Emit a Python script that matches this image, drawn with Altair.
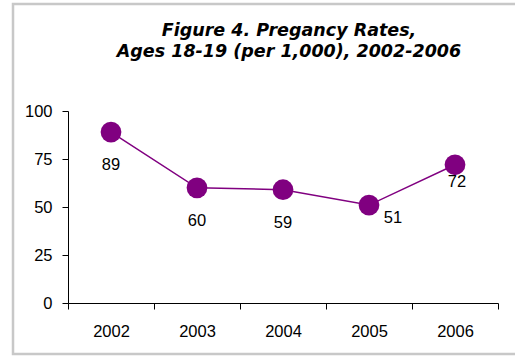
import altair as alt
import pandas as pd

# Pregnancy rates per 1,000 for ages 18-19
years = ["2002", "2003", "2004", "2005", "2006"]
rates = [89, 60, 59, 51, 72]
title_lines = ["Figure 4. Pregancy Rates,", "Ages 18-19 (per 1,000), 2002-2006"]

df = pd.DataFrame({"year": years, "rate": rates})

FONT = "Liberation Sans"
PURPLE = "#800080"
FS = 16.5

x_enc = alt.X(
    "year:O",
    scale=alt.Scale(type="band", paddingInner=0, paddingOuter=0),
    axis=alt.Axis(
        title=None, labelAngle=0, tickBand="extent", domainColor="black",
        tickColor="black", tickSize=6, labelPadding=14, labelFontSize=FS,
        labelFont=FONT, labelColor="black", grid=False,
    ),
)
y_enc = alt.Y(
    "rate:Q",
    scale=alt.Scale(domain=[0, 100]),
    axis=alt.Axis(
        title=None, values=[0, 25, 50, 75, 100], domainColor="black",
        tickColor="black", tickSize=6, labelPadding=10, labelFontSize=FS,
        labelFont=FONT, labelColor="black", grid=False,
    ),
)

base = alt.Chart(df).encode(x=x_enc, y=y_enc)

line = base.mark_line(color=PURPLE, strokeWidth=1.5)
dots = base.mark_circle(color=PURPLE, size=430, opacity=1)

label_style = dict(fontSize=FS, font=FONT, color="black", baseline="middle", align="center")
labels_below = base.transform_filter(
    alt.FieldOneOfPredicate(field="year", oneOf=["2002", "2003", "2004"])
).mark_text(dy=33, **label_style).encode(text="rate:Q")
label_2005 = base.transform_filter(alt.datum.year == "2005").mark_text(
    dx=24, dy=13, **label_style
).encode(text="rate:Q")
label_2006 = base.transform_filter(alt.datum.year == "2006").mark_text(
    dx=2, dy=17, **label_style
).encode(text="rate:Q")

# light gray frame around the whole figure
frame = alt.Chart(df).mark_rect(
    fill=None, stroke="#c8c8c8", strokeWidth=2.5
).encode(
    x=alt.value(-55), x2=alt.value(460), y=alt.value(-107), y2=alt.value(243)
).transform_filter(alt.datum.year == "2002")

# two-line heading above the plot
title_style = dict(
    font="DejaVu Sans", fontSize=17.5, fontStyle="italic", fontWeight="bold",
    color="black", align="center", baseline="alphabetic",
)
title_1 = alt.Chart(df).transform_filter(alt.datum.year == "2002").mark_text(
    text=title_lines[0], **title_style
).encode(x=alt.value(221), y=alt.value(-75))
title_2 = alt.Chart(df).transform_filter(alt.datum.year == "2002").mark_text(
    text=title_lines[1], **title_style
).encode(x=alt.value(221), y=alt.value(-54))

chart = alt.layer(
    frame, title_1, title_2, line, dots, labels_below, label_2005, label_2006
).properties(
    width=430,
    height=192,
    autosize=alt.AutoSizeParams(type="none"),
    padding={"left": 68, "top": 111, "right": 17, "bottom": 53},
    background="white",
).configure_view(stroke=None)

chart.save("out.html", embed_options={"renderer": "svg", "actions": False})
